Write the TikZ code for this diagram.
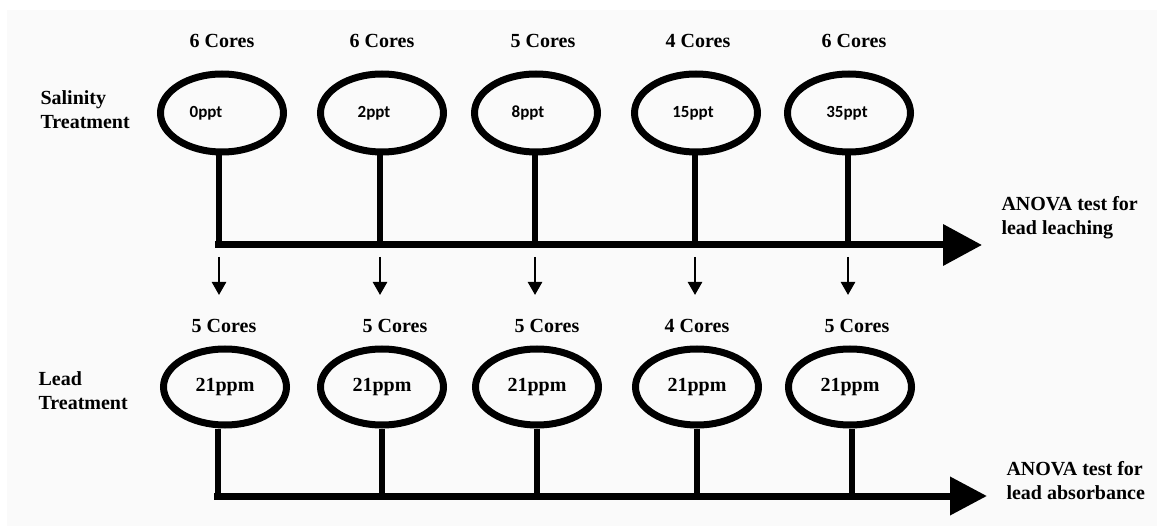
\documentclass[tikz,border=0pt]{standalone}
\usepackage{fontspec}
\setmainfont{LiberationSerif}[Extension=.ttf,UprightFont=*-Regular,BoldFont=*-Bold]
\newfontfamily\calib{Carlito}
\usetikzlibrary{shapes.geometric,arrows.meta}
\begin{document}
\begin{tikzpicture}[x=1pt,y=-1pt,
    ring/.style={ellipse,draw,line width=7pt,minimum width=123pt,minimum height=78pt,inner sep=0pt},
    cores/.style={font=\fontsize{20}{24}\selectfont\bfseries},
    side/.style={font=\fontsize{20}{24}\selectfont\bfseries,align=left,anchor=west},
    pptlabel/.style={font=\fontsize{17}{20}\selectfont\calib\bfseries},
    stem/.style={line width=6pt},
    mainline/.style={line width=7pt,-{Triangle[length=39pt,width=40pt]}},
    down/.style={line width=2.5pt,-{Triangle[length=13pt,width=14pt]}}]
    \useasboundingbox (0,0) rectangle (1157,529);
    \fill[black!2] (7,10) rectangle (1157,526);
    % salinity treatment
    \node[side] (sal) at (37,110) {Salinity\\Treatment};
    \foreach \x/\sx/\lx/\dx/\cnt/\val [count=\i] in
        {222/219/222/-16/6/0ppt, 382/380/382/-8/6/2ppt, 536/535/543/-8/5/8ppt,
         696/695/698/-3/4/15ppt, 849/848/854/-2/6/35ppt}{
        \node[cores] (tc\i) at (\lx,41) {\cnt\ Cores};
        \node[ring] (s\i) at (\x,113) {};
        \node[pptlabel] (v\i) at ([xshift=\dx pt]s\i.center) {\val};
        \draw[stem] (s\i.south -| \sx,0) -- (\sx,245) coordinate (j\i);
        \draw[down] ([yshift=-12pt]j\i) -- ++(0,38) coordinate (d\i);
    }
    \coordinate (tipA) at (982,245);
    \draw[mainline] ([xshift=-4pt]j1) -- (tipA);
    \node[side] (anovaA) at (998,218) {ANOVA test for\\lead leaching};
    % lead treatment
    \node[side] (lead) at (35,391) {Lead\\Treatment};
    \foreach \x/\sx/\lx/\cnt [count=\i] in
        {225/218/224/5, 382/382/395/5, 537/537/547/5, 697/697/697/4, 850/852/857/5}{
        \node[cores] (bc\i) at (\lx,326) {\cnt\ Cores};
        \node[ring,minimum height=76pt,font=\fontsize{20}{24}\selectfont\bfseries] (p\i) at (\x,387) {21ppm};
        \draw[stem] (p\i.south -| \sx,0) -- (\sx,496) coordinate (k\i);
    }
    \coordinate (tipB) at (987,496);
    \draw[mainline,-{Triangle[length=37pt,width=37pt]}] ([xshift=-4pt]k1) -- (tipB);
    \node[side] (anovaB) at (1003,481) {ANOVA test for\\lead absorbance};
\end{tikzpicture}
\end{document}
